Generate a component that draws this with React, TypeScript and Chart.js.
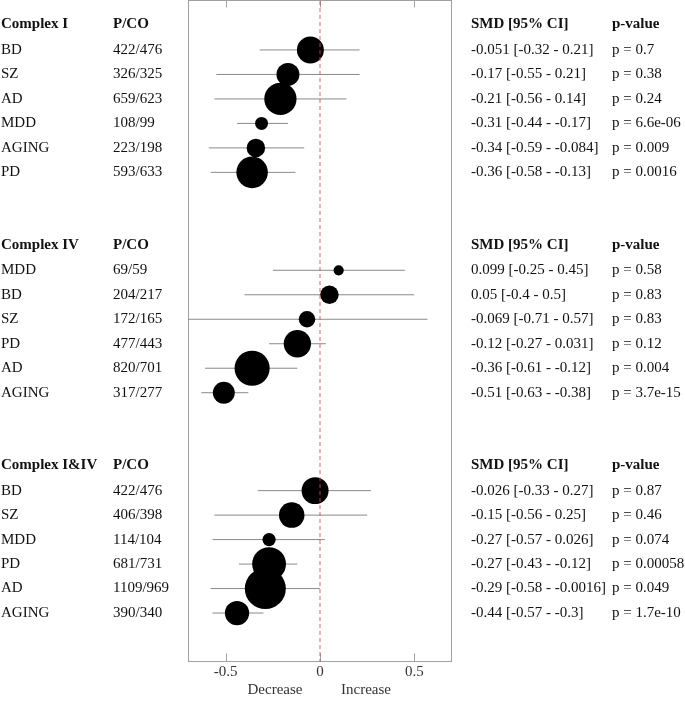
import { useEffect, useRef } from "react";
import { Chart, registerables } from "chart.js";

Chart.register(...registerables);

// ---------- data ----------
const groupTitles = ["Complex I", "Complex IV", "Complex I&IV"];

const c1Labels = ["BD", "SZ", "AD", "MDD", "AGING", "PD"];
const c1Patients = [422, 326, 659, 108, 223, 593];
const c1Controls = [476, 325, 623, 99, 198, 633];
const c1Smd = [-0.051, -0.17, -0.21, -0.31, -0.34, -0.36];
const c1Lower = [-0.32, -0.55, -0.56, -0.44, -0.59, -0.58];
const c1Upper = [0.21, 0.21, 0.14, -0.17, -0.084, -0.13];
const c1P = ["0.7", "0.38", "0.24", "6.6e-06", "0.009", "0.0016"];

const c4Labels = ["MDD", "BD", "SZ", "PD", "AD", "AGING"];
const c4Patients = [69, 204, 172, 477, 820, 317];
const c4Controls = [59, 217, 165, 443, 701, 277];
const c4Smd = [0.099, 0.05, -0.069, -0.12, -0.36, -0.51];
const c4Lower = [-0.25, -0.4, -0.71, -0.27, -0.61, -0.63];
const c4Upper = [0.45, 0.5, 0.57, 0.031, -0.12, -0.38];
const c4P = ["0.58", "0.83", "0.83", "0.12", "0.004", "3.7e-15"];

const c14Labels = ["BD", "SZ", "MDD", "PD", "AD", "AGING"];
const c14Patients = [422, 406, 114, 681, 1109, 390];
const c14Controls = [476, 398, 104, 731, 969, 340];
const c14Smd = [-0.026, -0.15, -0.27, -0.27, -0.29, -0.44];
const c14Lower = [-0.33, -0.56, -0.57, -0.43, -0.58, -0.57];
const c14Upper = [0.27, 0.25, 0.026, -0.12, -0.0016, -0.3];
const c14P = ["0.87", "0.46", "0.074", "0.00058", "0.049", "1.7e-10"];

const xTicks = [-0.5, 0, 0.5];

// ---------- assembled table ----------
const groups = [
  { title: groupTitles[0], labels: c1Labels, pat: c1Patients, con: c1Controls, smd: c1Smd, lo: c1Lower, hi: c1Upper, p: c1P },
  { title: groupTitles[1], labels: c4Labels, pat: c4Patients, con: c4Controls, smd: c4Smd, lo: c4Lower, hi: c4Upper, p: c4P },
  { title: groupTitles[2], labels: c14Labels, pat: c14Patients, con: c14Controls, smd: c14Smd, lo: c14Lower, hi: c14Upper, p: c14P },
];

const ROWS_PER_GROUP = 9;
const FONT = '"Liberation Serif", "Times New Roman", serif';
const rowOf = (g: number, i: number) => g * ROWS_PER_GROUP + 1 + i;

const forestPlugin = {
  id: "forestDecor",
  beforeDatasetsDraw(chart: any) {
    const { ctx, chartArea } = chart;
    const xs = chart.scales.x;
    ctx.save();
    ctx.strokeStyle = "#a0a0a0";
    ctx.lineWidth = 1;
    const l = Math.round(chartArea.left) + 0.5;
    const r = Math.round(chartArea.right) - 0.5;
    const t = Math.round(chartArea.top) - 0.5;
    const b = Math.round(chartArea.bottom) - 0.5;
    ctx.strokeRect(l, t, r - l, b - t);
    xTicks.forEach((v) => {
      const px = Math.round(xs.getPixelForValue(v)) + 0.5;
      ctx.beginPath();
      ctx.moveTo(px, t);
      ctx.lineTo(px, t + 7);
      ctx.moveTo(px, b);
      ctx.lineTo(px, b - 8);
      ctx.stroke();
    });
    ctx.restore();
  },
  afterDraw(chart: any) {
    const { ctx } = chart;
    const ys = chart.scales.y;
    const xs = chart.scales.x;
    ctx.save();
    ctx.textBaseline = "middle";
    ctx.textAlign = "left";
    ctx.fillStyle = "#111";
    groups.forEach((g, gi) => {
      const hy = ys.getPixelForValue(gi * ROWS_PER_GROUP) - 1;
      ctx.font = `bold 15px ${FONT}`;
      ctx.fillText(g.title, 1, hy);
      ctx.fillText("P/CO", 113, hy);
      ctx.fillText("SMD [95% CI]", 471, hy);
      ctx.fillText("p-value", 612, hy);
      ctx.font = `15px ${FONT}`;
      g.labels.forEach((lab, i) => {
        const y = ys.getPixelForValue(rowOf(gi, i));
        ctx.fillText(lab, 1, y);
        ctx.fillText(`${g.pat[i]}/${g.con[i]}`, 113, y);
        ctx.fillText(`${g.smd[i]} [${g.lo[i]} - ${g.hi[i]}]`, 471, y);
        ctx.fillText(`p = ${g.p[i]}`, 612, y);
      });
    });
    ctx.textAlign = "center";
    ctx.fillStyle = "#333";
    ctx.font = `15px ${FONT}`;
    const zx = xs.getPixelForValue(0);
    ctx.fillText("Decrease", zx - 45, 690);
    ctx.fillText("Increase", zx + 46, 690);
    ctx.restore();
  },
};

export default function App() {
  const ref = useRef<HTMLCanvasElement>(null);

  useEffect(() => {
    if (!ref.current) return;

    const bubblePoints: any[] = [];
    const ciSets: any[] = [];
    groups.forEach((g, gi) => {
      g.smd.forEach((v, i) => {
        const y = rowOf(gi, i);
        bubblePoints.push({ x: v, y, r: 0.45 * Math.sqrt(g.pat[i] + g.con[i]) });
        ciSets.push({
          type: "line",
          data: [
            { x: g.lo[i], y },
            { x: g.hi[i], y },
          ],
          borderColor: "#8a8a8a",
          borderWidth: 1,
          pointRadius: 0,
          fill: false,
          order: 2,
        });
      });
    });

    const chart = new Chart(ref.current, {
      type: "bubble",
      data: {
        datasets: [
          {
            type: "line",
            data: [
              { x: 0, y: -1 },
              { x: 0, y: 26 },
            ],
            borderColor: "rgba(215, 70, 70, 0.85)",
            borderWidth: 1,
            borderDash: [4, 3],
            pointRadius: 0,
            fill: false,
            order: -1,
          } as any,
          {
            type: "bubble",
            data: bubblePoints,
            backgroundColor: "#000",
            borderWidth: 0,
            hoverBorderWidth: 0,
            order: 0,
          } as any,
          ...ciSets,
        ],
      },
      options: {
        responsive: false,
        animation: false,
        devicePixelRatio: 1,
        layout: { autoPadding: false, padding: { left: 188, right: 233, top: 1, bottom: 0 } },
        plugins: { legend: { display: false }, tooltip: { enabled: false } },
        events: [],
        scales: {
          x: {
            type: "linear",
            min: -0.7,
            max: 0.7,
            grid: { display: false, drawTicks: false },
            border: { display: false },
            afterBuildTicks: (s: any) => {
              s.ticks = xTicks.map((v) => ({ value: v }));
            },
            afterFit: (s: any) => {
              s.height = 40;
            },
            ticks: {
              color: "#333",
              font: { family: FONT, size: 15 },
              padding: 1,
              callback: (v: any) => String(v),
            },
          },
          y: {
            type: "linear",
            display: false,
            reverse: true,
            min: -1,
            max: 26,
          },
        },
      } as any,
      plugins: [forestPlugin],
    });

    return () => chart.destroy();
  }, []);

  return (
    <div style={{ position: "absolute", left: 0, top: 0, width: 685, height: 702, background: "#fff" }}>
      <canvas ref={ref} width={685} height={702} style={{ display: "block" }} />
    </div>
  );
}
